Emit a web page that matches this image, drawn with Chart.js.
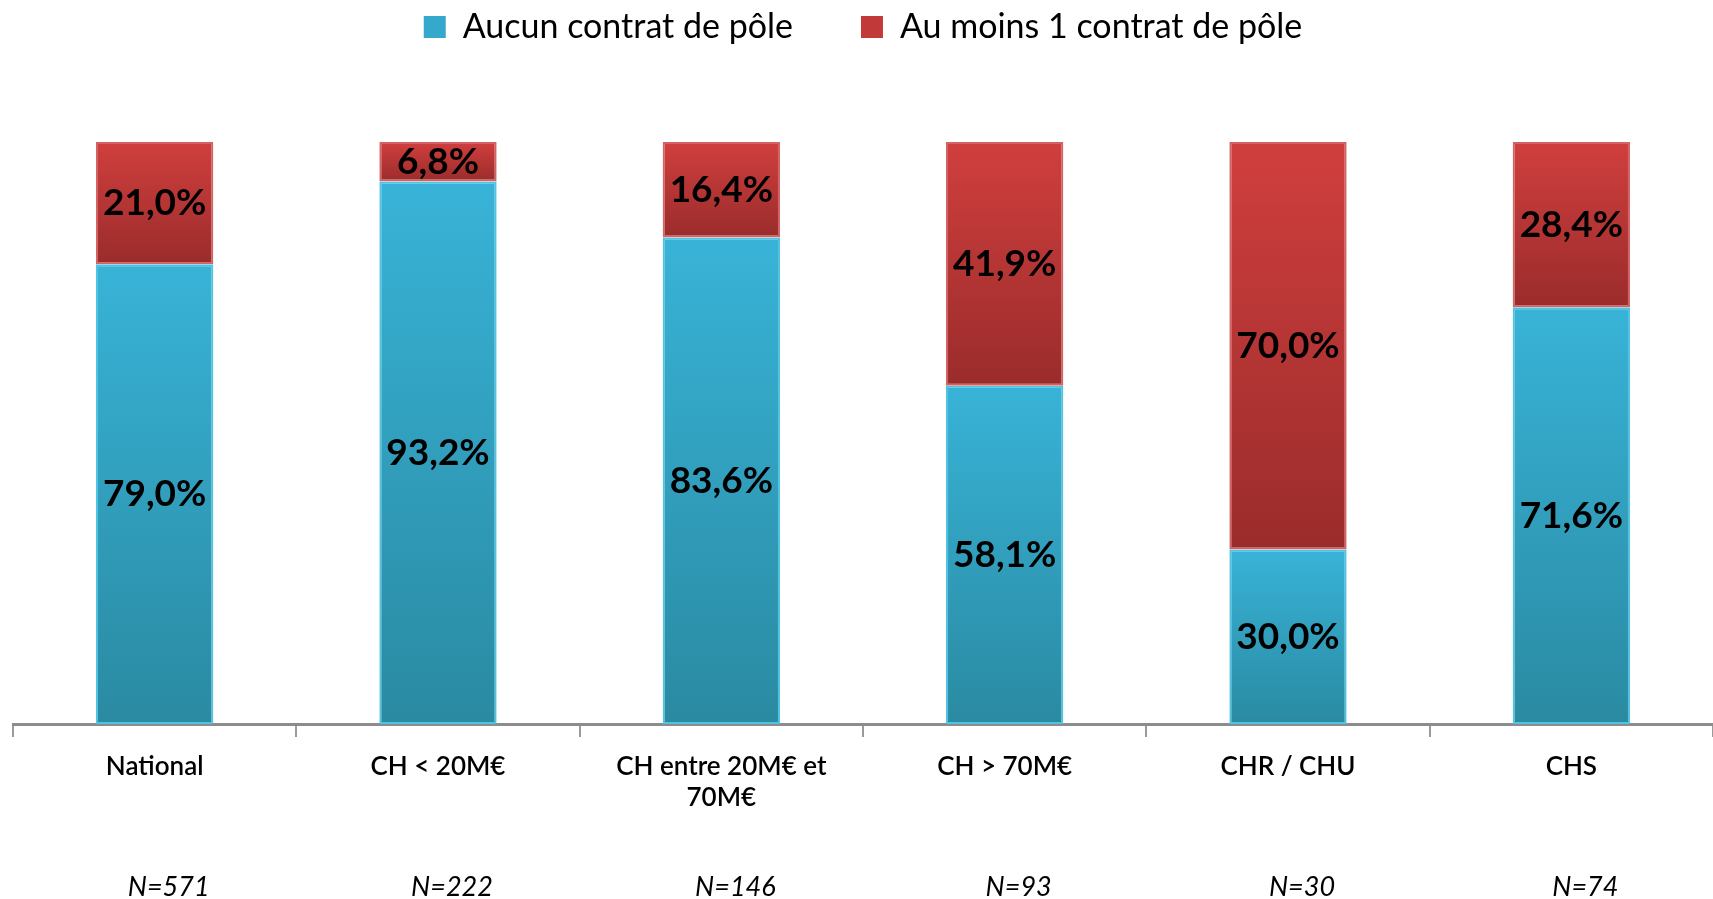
<!DOCTYPE html>
<html>
<head>
<meta charset="utf-8">
<script src="https://cdn.jsdelivr.net/npm/chart.js@4.4.1/dist/chart.umd.min.js"></script>
<style>
  html, body { margin: 0; padding: 0; background: #fff; }
  #wrap { width: 1713px; height: 899px; }
</style>
</head>
<body>
<div id="wrap"><canvas id="canvas"></canvas></div>
<script>
var categories = ['National', 'CH < 20M€', ['CH entre 20M€ et', '70M€'], 'CH > 70M€', 'CHR / CHU', 'CHS'];
var effectifs = ['N=571', 'N=222', 'N=146', 'N=93', 'N=30', 'N=74'];
var aucunContrat = [79.0, 93.2, 83.6, 58.1, 30.0, 71.6];
var auMoinsUn = [21.0, 6.8, 16.4, 41.9, 70.0, 28.4];

var FONT = "Lato, 'Noto Sans', sans-serif";

// one gradient per segment, top to bottom
function segmentGradient(ctx, top, bottom) {
    var chart = ctx.chart;
    if (!chart.chartArea || ctx.type !== 'data') { return top; }
    var y = chart.scales.y;
    var i = ctx.dataIndex;
    var base = ctx.datasetIndex === 0 ? 0 : aucunContrat[i];
    var val = ctx.datasetIndex === 0 ? aucunContrat[i] : auMoinsUn[i];
    var y0 = y.getPixelForValue(base + val);
    var y1 = y.getPixelForValue(base);
    var g = chart.ctx.createLinearGradient(0, y0, 0, y1);
    g.addColorStop(0, top);
    g.addColorStop(1, bottom);
    return g;
}

function fmt(v) {
    return v.toFixed(1).replace('.', ',') + '%';
}

var valueLabels = {
    id: 'valueLabels',
    afterDatasetsDraw: function (chart) {
        var ctx = chart.ctx;
        ctx.save();
        ctx.font = 'bold 37px ' + FONT;
        ctx.fillStyle = '#000';
        ctx.textAlign = 'center';
        ctx.textBaseline = 'middle';
        chart.data.datasets.forEach(function (ds, di) {
            chart.getDatasetMeta(di).data.forEach(function (bar, i) {
                var mid = (bar.y + bar.base) / 2;
                ctx.fillText(fmt(ds.data[i]), bar.x, mid);
            });
        });
        ctx.restore();
    }
};

// keep the legend high and leave room below it
var legendGap = {
    id: 'legendGap',
    beforeInit: function (chart) {
        var fit = chart.legend.fit;
        chart.legend.fit = function () {
            fit.bind(chart.legend)();
            this.height = 200;
        };
    }
};

var ctx = document.getElementById('canvas').getContext('2d');
new Chart(ctx, {
    type: 'bar',
    data: {
        labels: categories,
        datasets: [{
            label: 'Aucun contrat de pôle',
            data: aucunContrat,
            backgroundColor: function (c) { return segmentGradient(c, '#38b3d7', '#2a8aa2'); },
            borderColor: '#4fc3e2',
            borderWidth: 2,
            borderSkipped: false,
            categoryPercentage: 1,
            barPercentage: 0.414
        }, {
            label: 'Au moins 1 contrat de pôle',
            data: auMoinsUn,
            backgroundColor: function (c) { return segmentGradient(c, '#d03f3e', '#9a2c2b'); },
            borderColor: '#d46262',
            borderWidth: 2,
            borderSkipped: false,
            categoryPercentage: 1,
            barPercentage: 0.414
        }]
    },
    options: {
        responsive: true,
        maintainAspectRatio: false,
        animation: false,
        layout: { padding: { left: 13, right: 0, top: -58, bottom: 0 } },
        plugins: {
            legend: {
                position: 'top',
                labels: {
                    font: { family: FONT, size: 34 },
                    color: '#000',
                    boxWidth: 22,
                    boxHeight: 22,
                    padding: 68,
                    generateLabels: function (chart) {
                        var cols = ['#35a9cb', '#c13a39'];
                        return chart.data.datasets.map(function (ds, i) {
                            return {
                                text: ds.label,
                                fillStyle: cols[i],
                                strokeStyle: cols[i],
                                lineWidth: 0,
                                datasetIndex: i,
                                fontColor: '#000'
                            };
                        });
                    }
                }
            },
            tooltip: { enabled: false }
        },
        scales: {
            x: {
                stacked: true,
                border: { display: true, color: '#8c8c8c', width: 3 },
                grid: {
                    offset: true,
                    drawOnChartArea: false,
                    drawTicks: true,
                    tickLength: 13,
                    color: '#9a9a9a',
                    lineWidth: 2
                },
                ticks: {
                    color: '#000',
                    font: { family: FONT, size: 26, weight: '600' },
                    padding: 14,
                    maxRotation: 0
                },
                afterFit: function (s) { s.height = 122; }
            },
            n: {
                type: 'category',
                position: 'bottom',
                labels: effectifs,
                offset: true,
                border: { display: false },
                grid: { display: false },
                ticks: {
                    color: '#000',
                    font: { family: FONT, size: 27, style: 'italic' },
                    padding: 17,
                    labelOffset: 14
                },
                afterFit: function (s) { s.height = 53; }
            },
            y: {
                stacked: true,
                display: false,
                min: 0,
                max: 100
            }
        }
    },
    plugins: [valueLabels, legendGap]
});
</script>
</body>
</html>
